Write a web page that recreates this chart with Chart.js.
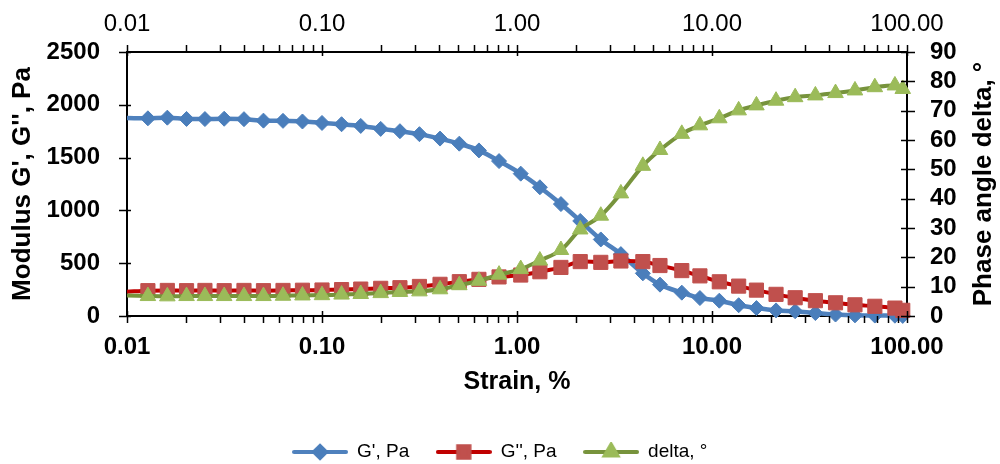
<!DOCTYPE html>
<html><head><meta charset="utf-8">
<script src="https://cdn.jsdelivr.net/npm/chart.js@4.4.1/dist/chart.umd.min.js"></script>
<style>html,body{margin:0;padding:0;background:#fff}#wrap{width:1000px;height:464px;position:relative}</style>
</head><body><div id="wrap"><canvas id="c" width="1000" height="464"></canvas></div>
<script>
// ---- data ----
const strain = [0.01, 0.0128, 0.0161, 0.0202, 0.0251, 0.0315, 0.0398, 0.0501, 0.0631, 0.0794,
  0.1, 0.126, 0.158, 0.200, 0.251, 0.316, 0.403, 0.506, 0.638, 0.809,
  1.045, 1.31, 1.68, 2.11, 2.69, 3.41, 4.42, 5.41, 7.00, 8.67,
  10.9, 13.7, 16.9, 21.3, 26.7, 33.9, 43.0, 54.1, 68.4, 86.7, 95.1];
const gPrime = [1875, 1872, 1878, 1866, 1865, 1868, 1864, 1850, 1848, 1842,
  1828, 1816, 1800, 1772, 1750, 1722, 1680, 1632, 1568, 1467,
  1348, 1219, 1060, 900, 725, 586, 404, 297, 221, 170,
  145, 102, 75, 53, 45, 28, 14, 6, 4, 3, 1];
const gDouble = [230, 240, 242, 240, 242, 240, 242, 240, 242, 244,
  246, 250, 255, 262, 268, 280, 300, 325, 347, 370,
  388, 419, 460, 515, 508, 521, 515, 478, 430, 380,
  324, 283, 245, 205, 173, 145, 125, 106, 92, 75, 54];
const delta = [7.0, 6.8, 6.7, 6.8, 6.8, 6.8, 6.8, 6.8, 6.9, 7.0,
  7.1, 7.3, 7.5, 7.8, 8.2, 8.4, 9.1, 10.5, 12.0, 14.1,
  16.0, 18.9, 22.5, 29.5, 34.2, 41.8, 51.2, 56.6, 62.1, 65.0,
  67.4, 70.1, 71.8, 73.4, 74.6, 75.2, 76.0, 76.9, 78.0, 78.6, 77.4];
const seriesNames = ["G', Pa", "G'', Pa", "delta, \u00B0"];
const xTickVals = [0.01, 0.1, 1, 10, 100];
const xTickLabels = ['0.01', '0.10', '1.00', '10.00', '100.00'];
const yLeftTicks = [0, 500, 1000, 1500, 2000, 2500];
const yRightTicks = [0, 10, 20, 30, 40, 50, 60, 70, 80, 90];
const xTitle = 'Strain, %';
const yLeftTitle = "Modulus G', G'', Pa";
const yRightTitle = 'Phase angle delta, \u00B0';

// ---- styling ----
const FONT = "'Liberation Sans', Arial, sans-serif";
Chart.defaults.font.family = FONT;
Chart.defaults.color = '#000';

const colors = {
  g1Line: '#4F81BD', g1Mark: '#4A7EBB',
  g2Line: '#C00000', g2Mark: '#C0504D',
  dLine: '#77933C', dMark: '#9BBB59'
};
const markers = [
  {style: 'rectRot', r: 7.5, line: colors.g1Line, fill: colors.g1Mark},
  {style: 'rect', r: 10, line: colors.g2Line, fill: colors.g2Mark},
  {style: 'triangle', r: 9, line: colors.dLine, fill: colors.dMark}
];
const LEGEND_PAD = 27;
const LEGEND_FONT = 19;
const LEGEND_TEXT_Y = 452;
const TITLE_FONT = 26;

function legendImg(m) {
  const c = document.createElement('canvas');
  c.width = 56; c.height = 20;
  const g = c.getContext('2d');
  g.strokeStyle = m.line; g.lineWidth = 4; g.lineCap = 'round';
  g.beginPath(); g.moveTo(2, 10); g.lineTo(54, 10); g.stroke();
  g.fillStyle = m.fill; g.strokeStyle = m.fill;
  Chart.helpers.drawPoint(g, {pointStyle: m.style, radius: m.r * 0.8, borderWidth: 1, rotation: 0}, 28, 10);
  return c;
}
const legendImgs = markers.map(legendImg);

function xLabel(v) {
  const i = xTickVals.findIndex(t => Math.abs(Math.log10(t) - Math.log10(v)) < 1e-6);
  return i >= 0 ? xTickLabels[i] : '';
}

const series = [gPrime, gDouble, delta];
const datasets = series.map((vals, si) => ({
  label: seriesNames[si],
  data: strain.map((s, i) => ({x: s, y: vals[i]})),
  yAxisID: si === 2 ? 'y2' : 'y',
  xAxisID: 'x',
  borderColor: markers[si].line,
  borderWidth: si === 0 ? 4.5 : 4,
  backgroundColor: markers[si].fill,
  pointBackgroundColor: markers[si].fill,
  pointBorderColor: markers[si].fill,
  pointBorderWidth: 1,
  pointStyle: markers[si].style,
  pointRadius: ctx => ctx.dataIndex === 0 ? 0 : markers[si].r,
  pointHoverRadius: ctx => ctx.dataIndex === 0 ? 0 : markers[si].r,
  tension: 0.35,
  clip: false,
  order: 3 - si
}));

const legendShift = {
  id: 'legendShift',
  afterLayout(chart) {
    const lg = chart.legend;
    if (!lg) return;
    const shift = LEGEND_TEXT_Y - (lg.top + LEGEND_PAD + LEGEND_FONT / 2);
    lg.top += shift;
    lg.bottom += shift;
  }
};

const tickPlugin = {
  id: 'crossTicks',
  afterDraw(chart) {
    const {ctx, chartArea: a, scales} = chart;
    ctx.save();
    ctx.strokeStyle = '#000';
    ctx.lineWidth = 1.5;
    const minorVals = [];
    for (let e = -2; e <= 1; e++) for (let m = 1; m <= 9; m++) minorVals.push(m * Math.pow(10, e));
    minorVals.push(100);
    ctx.beginPath();
    minorVals.forEach(v => {
      const px = Math.round(scales.x.getPixelForValue(v)) + 0.5;
      const major = xTickVals.some(t => Math.abs(t - v) < 1e-9 * t + 1e-12);
      ctx.moveTo(px, a.bottom - (major ? 5 : 0)); ctx.lineTo(px, a.bottom + 7);
      ctx.moveTo(px, a.top - 7); ctx.lineTo(px, a.top + (major ? 4 : 0));
    });
    yLeftTicks.forEach(v => {
      const py = Math.round(scales.y.getPixelForValue(v)) + 0.5;
      ctx.moveTo(a.left - 8, py); ctx.lineTo(a.left + 4, py);
    });
    yRightTicks.forEach(v => {
      const py = Math.round(scales.y2.getPixelForValue(v)) + 0.5;
      ctx.moveTo(a.right - 6, py); ctx.lineTo(a.right + 8, py);
    });
    ctx.stroke();
    // right axis title, reading bottom to top
    ctx.fillStyle = '#000';
    ctx.font = 'bold ' + TITLE_FONT + 'px ' + FONT;
    ctx.textAlign = 'center';
    ctx.textBaseline = 'middle';
    ctx.translate(984, (a.top + a.bottom) / 2);
    ctx.rotate(-Math.PI / 2);
    ctx.fillText(yRightTitle, 0, 0);
    ctx.restore();
  }
};

const axisBorder = {display: true, color: '#000', width: 2};
const noGrid = {display: false, drawTicks: false};

new Chart(document.getElementById('c'), {
  type: 'line',
  data: {datasets},
  plugins: [legendShift, tickPlugin],
  options: {
    responsive: false,
    animation: false,
    devicePixelRatio: 1,
    layout: {padding: 0},
    plugins: {
      tooltip: {enabled: false},
      legend: {
        position: 'bottom',
        labels: {
          usePointStyle: true,
          pointStyleWidth: 55,
          padding: LEGEND_PAD,
          font: {size: LEGEND_FONT},
          color: '#000',
          sort: (a, b) => a.datasetIndex - b.datasetIndex,
          generateLabels(chart) {
            const items = Chart.defaults.plugins.legend.labels.generateLabels(chart);
            items.forEach(it => { it.pointStyle = legendImgs[it.datasetIndex]; });
            return items;
          }
        }
      }
    },
    scales: {
      x: {
        type: 'logarithmic', position: 'bottom', min: 0.01, max: 100,
        afterBuildTicks: s => { s.ticks = xTickVals.map(v => ({value: v})); },
        ticks: {callback: v => xLabel(v), font: {size: 24, weight: 'bold'}, padding: 17, autoSkip: false, maxRotation: 0},
        grid: noGrid, border: axisBorder,
        title: {display: true, text: xTitle, font: {size: 25, weight: 'bold'}, padding: {top: 0, bottom: 11}},
        afterFit: s => { s.height = 92; }
      },
      x2: {
        type: 'logarithmic', position: 'top', min: 0.01, max: 100,
        afterBuildTicks: s => { s.ticks = xTickVals.map(v => ({value: v})); },
        ticks: {callback: v => xLabel(v), font: {size: 24, weight: 'normal'}, padding: 13, autoSkip: false, maxRotation: 0},
        grid: noGrid, border: axisBorder,
        afterFit: s => { s.height = 52; }
      },
      y: {
        type: 'linear', position: 'left', min: 0, max: 2500,
        afterBuildTicks: s => { s.ticks = yLeftTicks.map(v => ({value: v})); },
        ticks: {callback: v => String(v), font: {size: 24, weight: 'bold'}, padding: 27, autoSkip: false},
        grid: noGrid, border: axisBorder,
        title: {display: true, text: yLeftTitle, font: {size: TITLE_FONT, weight: 'bold'}, padding: {top: 7, bottom: 0}},
        afterFit: s => { s.width = 127; }
      },
      y2: {
        type: 'linear', position: 'right', min: 0, max: 90,
        afterBuildTicks: s => { s.ticks = yRightTicks.map(v => ({value: v})); },
        ticks: {callback: v => String(v), font: {size: 24, weight: 'bold'}, padding: 23, autoSkip: false},
        grid: noGrid, border: axisBorder,
        afterFit: s => { s.width = 93; }
      }
    }
  }
});
</script>
</body></html>
